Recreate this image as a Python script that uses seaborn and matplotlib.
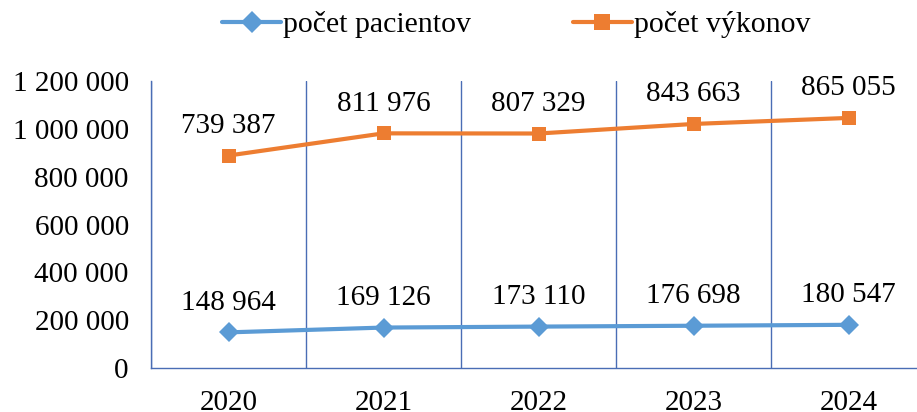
import matplotlib
matplotlib.use("Agg")
import matplotlib.pyplot as plt
import matplotlib.ticker as mticker
import seaborn as sns
import pandas as pd

years = ["2020", "2021", "2022", "2023", "2024"]
pacienti = [148964, 169126, 173110, 176698, 180547]
vykony = [739387, 811976, 807329, 843663, 865055]

sns.set_style("white")
plt.rcParams["font.family"] = ["Liberation Serif", "DejaVu Serif"]
plt.rcParams["text.color"] = "black"
plt.rcParams["xtick.labelcolor"] = "black"
plt.rcParams["ytick.labelcolor"] = "black"

blue = "#5B9BD5"
orange = "#ED7D31"
axis_col = "#4A6DB5"
fs = 21

# Excel "stacked line": second series drawn on top of the first
df = pd.DataFrame({"x": range(len(years)), "pac": pacienti, "vyk": vykony})
df["vyk_stack"] = df["pac"] + df["vyk"]

fig = plt.figure(figsize=(9.17, 4.12), dpi=100)
ax = fig.add_axes([151 / 917, 1 - 368 / 412, 775 / 917, 287 / 412])

sns.lineplot(data=df, x="x", y="pac", ax=ax, color=blue, lw=3, marker="D",
             markersize=10, markeredgewidth=0, label="počet pacientov")
sns.lineplot(data=df, x="x", y="vyk_stack", ax=ax, color=orange, lw=3, marker="s",
             markersize=10, markeredgewidth=0, label="počet výkonov")

fmt = lambda v: f"{v:,.0f}".replace(",", " ")
for i in range(len(years)):
    ax.annotate(fmt(df["pac"][i]), (i, df["pac"][i]), xytext=(0, 12),
                textcoords="offset points", ha="center", va="bottom", fontsize=fs)
    ax.annotate(fmt(df["vyk"][i]), (i, df["vyk_stack"][i]), xytext=(0, 12),
                textcoords="offset points", ha="center", va="bottom", fontsize=fs)

ax.set_xlim(-0.5, 4.5)
ax.set_ylim(0, 1200000)
ax.yaxis.set_major_locator(mticker.MultipleLocator(200000))
ax.yaxis.set_major_formatter(mticker.FuncFormatter(lambda v, p: fmt(v)))
ax.set_xticks(range(len(years)))
ax.set_xticklabels(years)
ax.set_xticks([i + 0.5 for i in range(-1, len(years))], minor=True)
ax.tick_params(axis="x", which="major", length=0, pad=16, labelsize=fs)
ax.tick_params(axis="x", which="minor", length=6, width=1, color=axis_col)
ax.tick_params(axis="y", length=6, width=1, color=axis_col, labelsize=fs, pad=10)
ax.grid(axis="x", which="minor", color=axis_col, lw=1)
ax.set_xlabel("")
ax.set_ylabel("")

for s in ["top", "right"]:
    ax.spines[s].set_visible(False)
for s in ["left", "bottom"]:
    ax.spines[s].set_color(axis_col)
    ax.spines[s].set_linewidth(1)

ax.get_legend().remove()
h, l = ax.get_legend_handles_labels()
fig.legend(h, l, loc="center", bbox_to_anchor=(516 / 917, 1 - 25 / 412), ncol=2,
           frameon=False, fontsize=21.5, handlelength=2.0, columnspacing=3.4,
           handletextpad=0.05, markerscale=1.1)

fig.savefig("out.png", dpi=100)
